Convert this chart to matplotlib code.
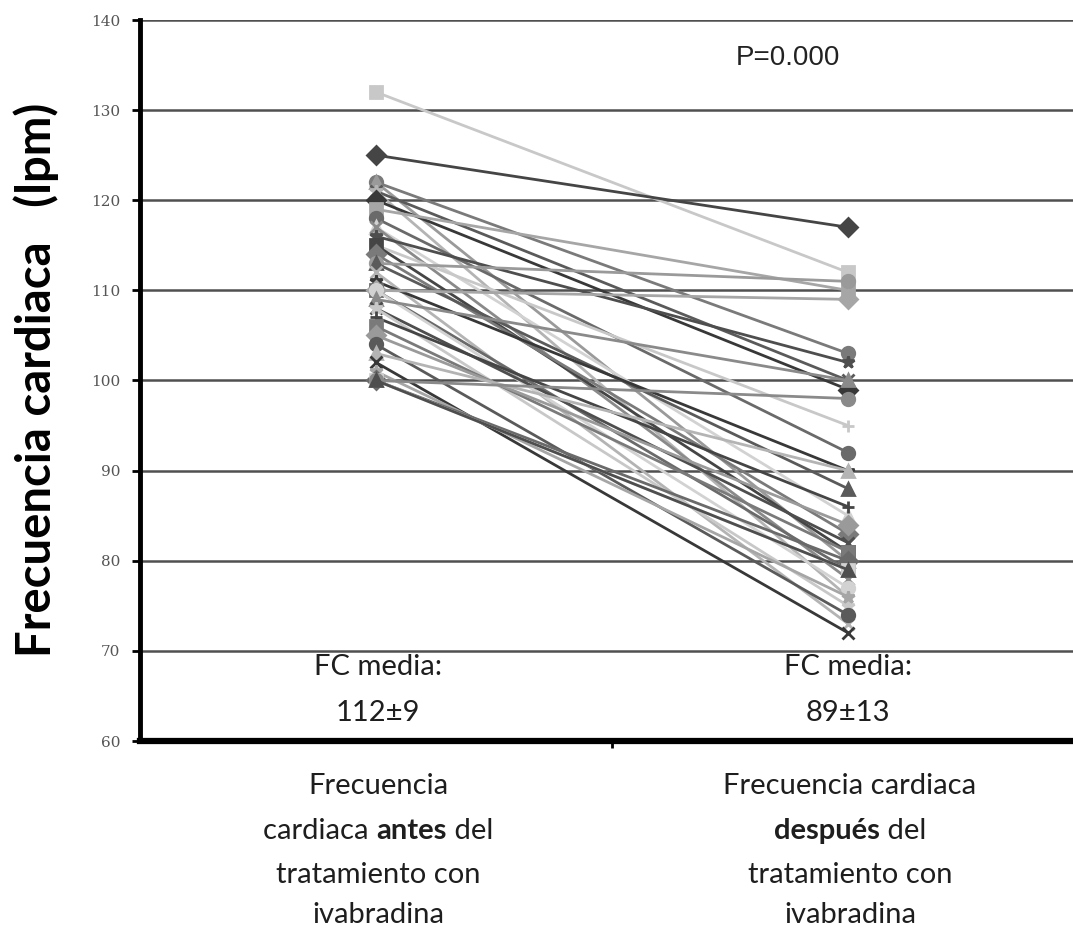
import matplotlib
matplotlib.use("Agg")
import matplotlib.pyplot as plt

# heart rate per patient, before and after ivabradine
fc_antes = [132, 125, 122, 122, 121, 121, 120, 119, 118, 117, 117, 116,
            115, 115, 114, 113, 113, 112, 111, 110, 110, 110, 109, 108,
            108, 107, 106, 105, 104, 103, 102, 101, 100, 100, 100, 100]
fc_despues = [112, 117, 103, 80, 100, 76, 99, 110, 92, 85, 78, 102,
              95, 81, 83, 111, 88, 73, 90, 109, 79, 77, 100, 82,
              75, 86, 81, 84, 74, 90, 72, 76, 80, 79, 98, 79]

y_ticks = [60, 70, 80, 90, 100, 110, 120, 130, 140]
media_antes = "112±9"
media_despues = "89±13"
p_valor = "P=0.000"

# excel-like grey series styles
grises = ["#c8c8c8", "#454545", "#7a7a7a", "#9a9a9a", "#5a5a5a", "#b4b4b4",
          "#383838", "#a6a6a6", "#6a6a6a", "#d2d2d2", "#8a8a8a", "#4e4e4e"]
marcadores = ["s", "D", "o", "^", "x", "*", "D", "s", "o", "^", "x", "*", "+"]

W, H = 1073, 930
fig = plt.figure(figsize=(W / 100, H / 100), dpi=100)
ax = fig.add_axes([140 / W, 1 - 741 / H, 944 / W, 721 / H])

for i, (a, d) in enumerate(zip(fc_antes, fc_despues)):
    c = grises[i % len(grises)]
    m = marcadores[i % len(marcadores)]
    ax.plot([1, 2], [a, d], color=c, lw=2.0, marker=m, ms=9,
            mec=c, mfc=c, mew=2, zorder=3, clip_on=False)

ax.set_xlim(0.5, 2.5)
ax.set_ylim(60, 140)
ax.set_yticks(y_ticks)
ax.set_yticklabels([str(t) for t in y_ticks], family="DejaVu Serif",
                   fontsize=11, color="#555555")
ax.set_xticks([1.5])
ax.set_xticklabels([""])
ax.tick_params(axis="y", direction="out", length=6, width=2, color="black", pad=8)
ax.tick_params(axis="x", direction="out", length=5, width=2, color="black")
for y in y_ticks[1:]:
    ax.axhline(y, color="#505050", lw=1.8, zorder=1)

for s in ["top", "right"]:
    ax.spines[s].set_visible(False)
ax.spines["left"].set_linewidth(3.5)
ax.spines["bottom"].set_linewidth(4.5)

fig.text(36 / W, 1 - 380 / H, "Frecuencia cardiaca   (lpm)", rotation=90,
         ha="center", va="center", fontsize=34, fontweight="bold", family="Lato")

fig.text(788 / W, 1 - 58 / H, p_valor, ha="center", va="center",
         fontsize=20, family="Liberation Sans", color="#222222")

TAM = 21
txt = dict(ha="center", va="center", fontsize=TAM, family="Lato", color="#1e1e1e")
for xc, media in [(378, media_antes), (848, media_despues)]:
    fig.text(xc / W, 1 - 667 / H, "FC media:", **txt)
    fig.text(xc / W, 1 - 713 / H, media, **txt)

renderer = fig.canvas.get_renderer()


def linea_mixta(xc, yc, partes):
    # draw one centred line made of normal / bold pieces
    objs = []
    for texto, peso in partes:
        t = fig.text(0, 1 - yc / H, texto, ha="left", va="center",
                     fontsize=TAM, family="Lato", fontweight=peso, color="#1e1e1e")
        objs.append(t)
    anchos = [t.get_window_extent(renderer).width for t in objs]
    x = xc - sum(anchos) / 2
    for t, w in zip(objs, anchos):
        t.set_x(x / W)
        x += w


lineas_antes = [[("Frecuencia", "normal")],
                [("cardiaca ", "normal"), ("antes", "bold"), (" del", "normal")],
                [("tratamiento con", "normal")],
                [("ivabradina", "normal")]]
lineas_despues = [[("Frecuencia cardiaca", "normal")],
                  [("después", "bold"), (" del", "normal")],
                  [("tratamiento con", "normal")],
                  [("ivabradina", "normal")]]
for k, yc in enumerate([786, 831, 875, 915]):
    linea_mixta(378, yc, lineas_antes[k])
    linea_mixta(850, yc, lineas_despues[k])

fig.savefig("out.png", dpi=100, facecolor="white")
